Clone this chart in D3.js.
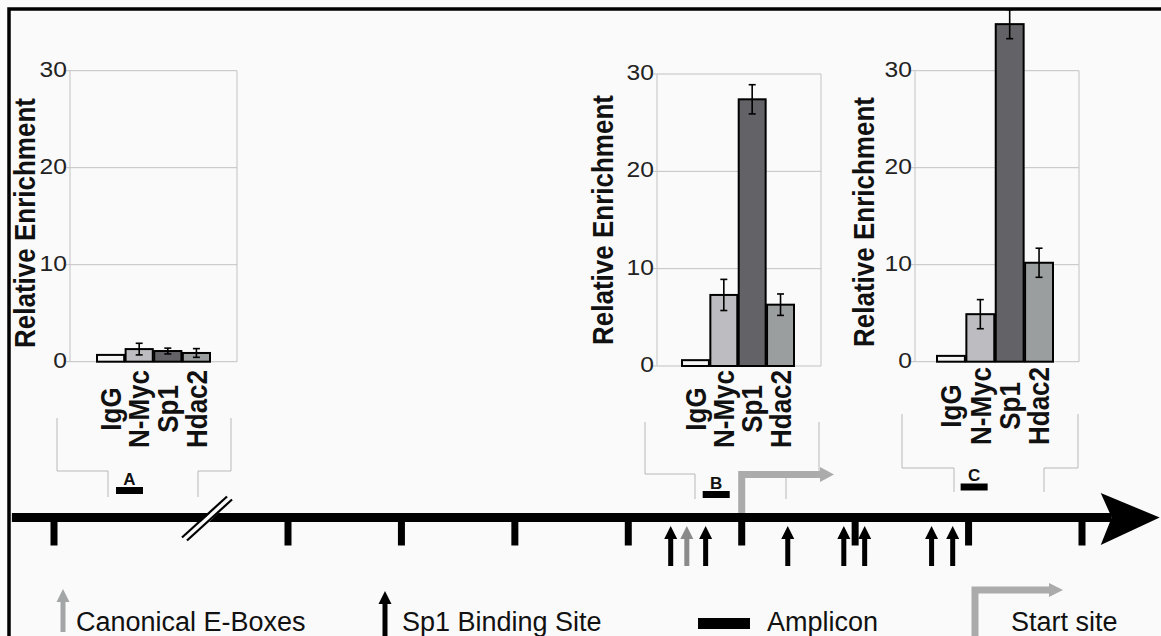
<!DOCTYPE html>
<html>
<head>
<meta charset="utf-8">
<script src="https://cdn.jsdelivr.net/npm/d3@7"></script>
<style>
  html, body { margin: 0; padding: 0; background: #fafafa; }
  svg { display: block; }
  text { font-family: "Liberation Sans", Arial, sans-serif; }
</style>
</head>
<body>
<svg id="chart" width="1161" height="636"></svg>
<script>
// ---------- data ----------
const categories = ["IgG", "N-Myc", "Sp1", "Hdac2"];
const valuesA = [0.7, 1.3, 1.1, 0.9];
const errorsA = [0, 0.6, 0.3, 0.45];
const valuesB = [0.6, 7.3, 27.4, 6.3];
const errorsB = [0, 1.6, 1.5, 1.1];
const valuesC = [0.6, 4.9, 34.8, 10.2];
const errorsC = [0, 1.5, 1.5, 1.5];
const yTicks = [0, 10, 20, 30];
const yTitle = "Relative Enrichment";
const barColors = ["#f4f4f4", "#bdbdc1", "#636367", "#9b9e9e"];

// genome (bp relative to transcription start)
const genomeTicks = [-5000, -2000, -1500, -1000, -500, 0, 500, 1000, 1500];
const sp1Sites = [-313, -159, 203, 450, 542, 837, 930];
const eBoxes = [-242];
const startSite = 0;
const ampliconNames = ["A", "B", "C"];
const ampliconStarts = [-4205, -172, 965];
const ampliconEnds = [-3859, -53, 1084];
const genomeBreak = -3064;
const genomeStart = -5540;
const genomeEnd = 1631;

const legendLabels = ["Canonical E-Boxes", "Sp1 Binding Site", "Amplicon", "Start site"];

// ---------- drawing ----------
const svg = d3.select("#chart");
svg.append("rect").attr("width", 1161).attr("height", 636).attr("fill", "#fafafa");
svg.append("rect").attr("x", 9).attr("y", 9).attr("width", 1200).attr("height", 700)
  .attr("fill", "none").attr("stroke", "#000").attr("stroke-width", 3.5);

const panels = [
  {vals: valuesA, errs: errorsA, left: 70, right: 237, y0: 361.7, y30: 70.7, barL: 97, barR: 210,
   titleX: 25, titleY: 223, labelY: 409,
   bracket: ["M57,418V471H108V497", "M198,497V471H231V418"]},
  {vals: valuesB, errs: errorsB, left: 657, right: 821, y0: 366, y30: 74, barL: 682, barR: 794,
   titleX: 603, titleY: 220, labelY: 409,
   bracket: ["M645,422V474H695V499", "M786,499V474H819V422"]},
  {vals: valuesC, errs: errorsC, left: 915, right: 1079, y0: 361.7, y30: 70.7, barL: 937, barR: 1053,
   titleX: 864, titleY: 222, labelY: 406,
   bracket: ["M902,414V468H954V492", "M1044,492V468H1078V414"]}
];

panels.forEach(p => {
  const g = svg.append("g");
  const y = d3.scaleLinear().domain([0, 30]).range([p.y0, p.y30]);
  const x = d3.scaleBand().domain(categories).range([p.barL, p.barR]).paddingInner(0.05);

  // gridlines + ticks
  g.selectAll("line.grid").data(yTicks).enter().append("line")
    .attr("x1", p.left - 4).attr("x2", p.right).attr("y1", d => y(d)).attr("y2", d => y(d))
    .attr("stroke", "#c2c2c2").attr("stroke-width", 1);
  g.selectAll("text.tick").data(yTicks).enter().append("text")
    .attr("transform", d => `translate(${p.left - 3},${y(d)}) scale(1.12,1)`)
    .attr("text-anchor", "end").attr("dy", "0.28em")
    .attr("font-size", 22).attr("fill", "#222").text(d => d);

  [p.left, p.right].forEach(xx => {
    g.append("line").attr("x1", xx).attr("x2", xx).attr("y1", y(30)).attr("y2", y(0))
      .attr("stroke", "#c2c2c2").attr("stroke-width", 1);
  });

  g.append("text").attr("transform", `translate(${p.titleX},${p.titleY}) rotate(-90) scale(1,1.12)`)
    .attr("text-anchor", "middle").attr("dy", "0.35em")
    .attr("font-size", 26).attr("font-weight", "bold").attr("fill", "#111").text(yTitle);

  g.selectAll("rect.bar").data(categories).enter().append("rect")
    .attr("x", d => x(d)).attr("width", x.bandwidth())
    .attr("y", (d, i) => y(p.vals[i])).attr("height", (d, i) => y(0) - y(p.vals[i]))
    .attr("fill", (d, i) => barColors[i]).attr("stroke", "#000").attr("stroke-width", 2);

  categories.forEach((c, i) => {
    if (p.errs[i] <= 0) return;
    const cx = x(c) + x.bandwidth() / 2;
    const hi = y(p.vals[i] + p.errs[i]), lo = y(p.vals[i] - p.errs[i]);
    g.append("line").attr("x1", cx).attr("x2", cx).attr("y1", hi).attr("y2", lo)
      .attr("stroke", "#000").attr("stroke-width", 1.6);
    [hi, lo].forEach(yy => g.append("line").attr("x1", cx - 3.5).attr("x2", cx + 3.5)
      .attr("y1", yy).attr("y2", yy).attr("stroke", "#000").attr("stroke-width", 1.6));
  });

  g.selectAll("text.cat").data(categories).enter().append("text")
    .attr("transform", d => `translate(${x(d) + x.bandwidth() / 2},${p.labelY}) rotate(-90) scale(1,1.1)`)
    .attr("text-anchor", "middle").attr("dy", "0.36em")
    .attr("font-size", 26).attr("font-weight", "bold").attr("fill", "#111").text(d => d);

  p.bracket.forEach(d => g.append("path").attr("d", d).attr("fill", "none")
    .attr("stroke", "#b8b8b8").attr("stroke-width", 1));
});

// ---------- genome ----------
const gx = d3.scaleLinear().domain([-5000, -2000, 1500]).range([54, 288, 1082]);
const lineY = 517.5;
const gg = svg.append("g");

const ssx = gx(startSite);
gg.append("path").attr("d", `M${ssx},${lineY} V474.5 H822`).attr("fill", "none")
  .attr("stroke", "#ababab").attr("stroke-width", 7);
gg.append("path").attr("d", `M820,467 L834,474.5 L820,482 Z`).attr("fill", "#ababab");

gg.append("rect").attr("x", gx(genomeStart)).attr("y", lineY - 4.5)
  .attr("width", gx(genomeEnd) - gx(genomeStart)).attr("height", 9).attr("fill", "#000");
const ex = gx(genomeEnd);
gg.append("path").attr("d", `M${ex - 11},493 L${ex + 48},${lineY} L${ex - 11},545 L${ex},${lineY} Z`)
  .attr("fill", "#000");

gg.selectAll("rect.tick").data(genomeTicks).enter().append("rect")
  .attr("x", d => gx(d) - 3.5).attr("y", lineY).attr("width", 7).attr("height", 28).attr("fill", "#000");

const bx = gx(genomeBreak);
gg.append("path").attr("d", `M${bx - 21},${lineY + 20} L${bx + 24},${lineY - 22} L${bx + 28},${lineY - 18} L${bx - 17},${lineY + 24} Z`)
  .attr("fill", "#fafafa");
[[0, 0], [5, 3]].forEach(o => gg.append("line")
  .attr("x1", bx - 23 + o[0]).attr("y1", lineY + 20 + o[1]).attr("x2", bx + 22 + o[0]).attr("y2", lineY - 21 + o[1])
  .attr("stroke", "#000").attr("stroke-width", 2.2));

const ampY = [490.5, 494.5, 487];
ampliconNames.forEach((n, i) => {
  const x0 = gx(ampliconStarts[i]), x1 = gx(ampliconEnds[i]);
  gg.append("rect").attr("x", x0).attr("y", ampY[i] - 3.5).attr("width", x1 - x0).attr("height", 7).attr("fill", "#000");
  gg.append("text").attr("x", (x0 + x1) / 2).attr("y", ampY[i] - 6).attr("text-anchor", "middle")
    .attr("font-size", 17).attr("font-weight", "bold").attr("fill", "#111").text(n);
});

function upArrow(sel, x, top, bottom, color) {
  sel.append("rect").attr("x", x - 2.5).attr("y", top + 11).attr("width", 5).attr("height", bottom - top - 11).attr("fill", color);
  sel.append("path").attr("d", `M${x - 6.5},${top + 13} L${x},${top} L${x + 6.5},${top + 13} Z`).attr("fill", color);
}
sp1Sites.forEach(s => upArrow(gg, gx(s), 526, 566, "#000"));
eBoxes.forEach(s => upArrow(gg, gx(s), 526, 566, "#8a8a8a"));

// ---------- legend ----------
const lg = svg.append("g");
upArrow(lg, 63, 589, 632, "#a3a6a6");
upArrow(lg, 385, 591, 636, "#000");
lg.append("rect").attr("x", 698).attr("y", 618).attr("width", 52).attr("height", 11).attr("fill", "#000");
lg.append("path").attr("d", "M975,636 V590 H1051").attr("fill", "none").attr("stroke", "#ababab").attr("stroke-width", 7);
lg.append("path").attr("d", "M1049,583 L1063,590 L1049,597 Z").attr("fill", "#ababab");
const legX = [76, 402, 767, 1011];
legendLabels.forEach((t, i) => lg.append("text").attr("x", legX[i]).attr("y", 631)
  .attr("font-size", 27).attr("fill", "#111").text(t));
</script>
</body>
</html>
